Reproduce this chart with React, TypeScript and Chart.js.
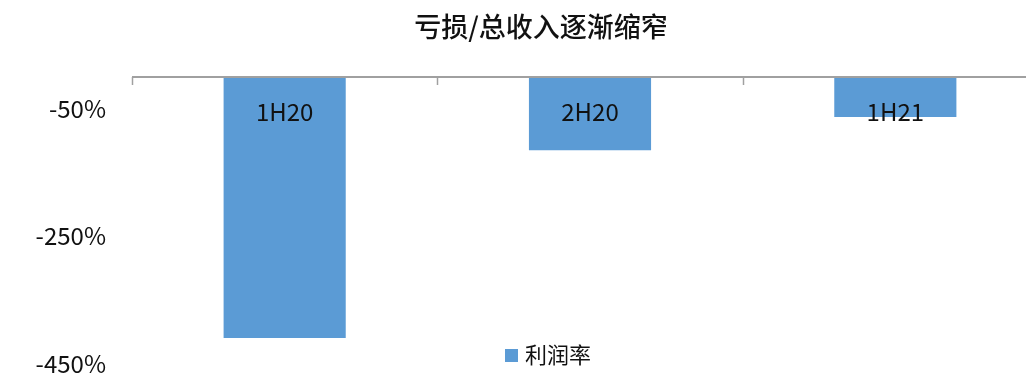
import React, { useEffect, useRef } from "react";
import { Chart, registerables } from "chart.js";

Chart.register(...registerables);

const title = "亏损/总收入逐渐缩窄";
const categories = ["1H20", "2H20", "1H21"];
const seriesName = "利润率";
const profitMargin = [-410, -115, -63];
const yTicks = [-450, -250, -50];
const yMin = -450;
const yMax = 0;

const FONT = '"Noto Sans CJK SC", "Noto Sans", sans-serif';
const BAR = "#5B9BD5";

const overlay = {
  id: "overlay",
  afterDatasetsDraw(chart: any) {
    const { ctx, chartArea, scales } = chart;
    const x = scales.x;
    const y = scales.y;
    const y0 = y.getPixelForValue(0);
    const step = x.getPixelForValue(1) - x.getPixelForValue(0);
    ctx.save();
    ctx.strokeStyle = "#A0A0A0";
    ctx.lineWidth = 2;
    ctx.beginPath();
    ctx.moveTo(chartArea.left, y0);
    ctx.lineTo(chartArea.right, y0);
    ctx.stroke();
    const n = categories.length;
    for (let i = 0; i <= n; i++) {
      const px = x.getPixelForValue(0) - step / 2 + i * step;
      ctx.beginPath();
      ctx.moveTo(Math.round(px) + 0.5, y0);
      ctx.lineTo(Math.round(px) + 0.5, y0 + 8);
      ctx.lineWidth = 1.5;
      ctx.stroke();
    }
    ctx.fillStyle = "#111";
    ctx.font = `24px ${FONT}`;
    ctx.textAlign = "center";
    ctx.textBaseline = "middle";
    categories.forEach((c, i) => {
      ctx.fillText(c, x.getPixelForValue(i), y0 + 35);
    });
    ctx.font = `500 27px ${FONT}`;
    ctx.fillText(title, chart.width / 2, 27);
    ctx.font = `22px ${FONT}`;
    ctx.textAlign = "left";
    const tw = ctx.measureText(seriesName).width;
    const total = 13 + 7 + tw;
    const lx = chart.width / 2 + 7 - total / 2;
    ctx.fillStyle = BAR;
    ctx.fillRect(lx, 349, 13, 13);
    ctx.fillStyle = "#111";
    ctx.fillText(seriesName, lx + 20, 355);
    ctx.restore();
  },
};

export default function App() {
  const ref = useRef<HTMLCanvasElement>(null);
  useEffect(() => {
    if (!ref.current) return;
    const chart = new Chart(ref.current, {
      type: "bar",
      data: {
        labels: categories,
        datasets: [
          {
            label: seriesName,
            data: profitMargin,
            backgroundColor: BAR,
            borderWidth: 0,
            categoryPercentage: 1,
            barPercentage: 0.4,
          },
        ],
      },
      options: {
        animation: false,
        responsive: false,
        maintainAspectRatio: false,
        layout: { padding: { top: 77, bottom: 12, right: 34, left: 0 } },
        plugins: {
          legend: { display: false },
          title: { display: false },
          tooltip: { enabled: false },
        },
        scales: {
          x: { display: false, offset: true },
          y: {
            min: yMin,
            max: yMax,
            grid: { display: false },
            border: { display: false },
            afterFit: (axis: any) => {
              axis.width = 132;
            },
            afterBuildTicks: (axis: any) => {
              axis.ticks = yTicks.map((v) => ({ value: v }));
            },
            ticks: {
              padding: 18,
              color: "#111",
              font: { family: FONT, size: 24 },
              callback: (v: any) => `${v}%`,
            },
          },
        },
      },
      plugins: [overlay],
    });
    return () => chart.destroy();
  }, []);
  return (
    <div
      style={{
        position: "fixed",
        left: 0,
        top: 0,
        width: 1026,
        height: 375,
        overflow: "hidden",
        background: "#fff",
      }}
    >
      <canvas ref={ref} width={1082} height={396} style={{ width: 1082, height: 396 }} />
    </div>
  );
}
